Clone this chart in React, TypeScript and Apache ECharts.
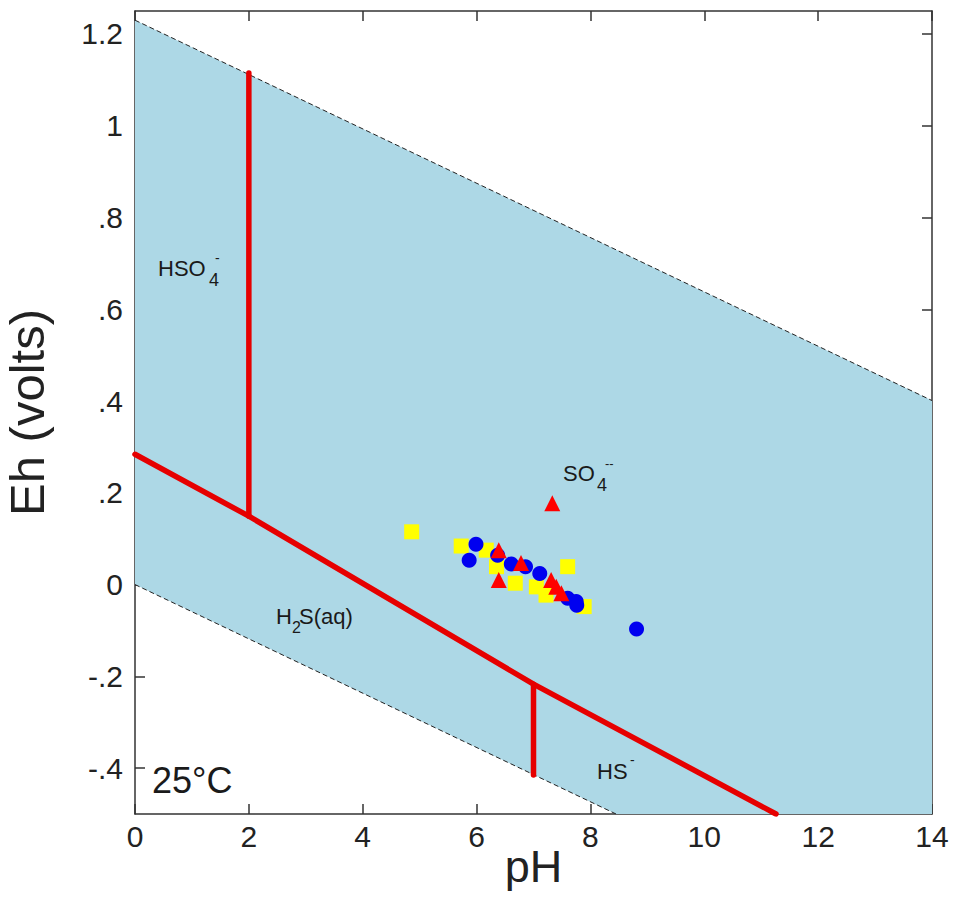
import React, { useEffect, useRef } from "react";
import * as echarts from "echarts";

// ---- data ----
const xTicks = [0, 2, 4, 6, 8, 10, 12, 14];
const yTickValues = [-0.4, -0.2, 0, 0.2, 0.4, 0.6, 0.8, 1.0, 1.2];

// water stability field (light blue region)
const waterField = [[0, 1.23], [14, 0.401], [14, -0.5], [8.45, -0.5], [0, 0]];
const waterUpper = [[0, 1.23], [14, 0.401]];
const waterLower = [[0, 0], [8.45, -0.5]];

// sulfur species boundaries (red)
const boundaryMain = [[0, 0.284], [2, 0.149], [7, -0.217], [11.26, -0.5]];
const boundaryHSO4 = [[2, 1.115], [2, 0.149]];
const boundaryHS = [[7, -0.217], [7, -0.415]];

// samples
const yellowSquares = [
  [4.86, 0.115], [5.73, 0.084], [6.17, 0.075], [6.35, 0.039], [6.68, 0.003],
  [7.05, -0.005], [7.22, -0.023], [7.6, 0.039], [7.89, -0.048],
];
const blueCircles = [
  [5.99, 0.088], [5.87, 0.053], [6.37, 0.064], [6.61, 0.045], [6.86, 0.039],
  [7.11, 0.024], [7.6, -0.03], [7.75, -0.037], [7.76, -0.045], [8.81, -0.097],
];
const redTriangles = [
  [7.33, 0.177], [6.39, 0.075], [6.78, 0.047], [6.39, 0.01],
  [7.31, 0.01], [7.4, -0.005], [7.49, -0.019],
];

const FONT = "'Liberation Sans', Arial, Helvetica, sans-serif";
const AXIS_COLOR = "#333";
const RED = "#e60000";

function fmtY(v: number): string {
  const r = Math.round(v * 10) / 10;
  if (r === 0) return "0";
  return String(r).replace(/^(-?)0\./, "$1.");
}

function txt(text: string, x: number, y: number, size: number, extra: any = {}) {
  return {
    type: "text",
    x,
    y,
    silent: true,
    z: 50,
    style: {
      text,
      fontSize: size,
      fontFamily: FONT,
      fill: "#1a1a1a",
      align: "left",
      verticalAlign: "middle",
      ...extra,
    },
  };
}

export default function App() {
  const ref = useRef<HTMLDivElement>(null);
  useEffect(() => {
    if (!ref.current) return;
    const chart = echarts.init(ref.current, null, { renderer: "svg" });
    const axisLine = { show: true, onZero: false, lineStyle: { color: AXIS_COLOR, width: 1.5 } };
    const tick = { inside: true, length: 10, lineStyle: { color: AXIS_COLOR, width: 1.5 } };
    const option: any = {
      animation: false,
      backgroundColor: "#ffffff",
      grid: {
        left: 135, right: 24, top: 11, bottom: 88,
        containLabel: false, outerBoundsMode: "none",
      },
      xAxis: [
        {
          type: "value", min: xTicks[0], max: xTicks[xTicks.length - 1], interval: 2,
          position: "bottom", axisLine, axisTick: tick, splitLine: { show: false },
          axisLabel: { fontSize: 30, color: "#222", margin: 7, fontFamily: FONT },
          name: "pH", nameLocation: "middle", nameGap: 27, nameMoveOverlap: false,
          nameTextStyle: { fontSize: 45, color: "#222", fontFamily: FONT, lineHeight: 50 },
        },
        {
          type: "value", min: xTicks[0], max: xTicks[xTicks.length - 1], interval: 2,
          position: "top", axisLine, axisTick: tick, splitLine: { show: false },
          axisLabel: { show: false },
        },
      ],
      yAxis: [
        {
          type: "value", min: -0.5, max: 1.25, position: "left", axisLine,
          axisTick: { ...tick, customValues: yTickValues }, splitLine: { show: false },
          axisLabel: {
            customValues: yTickValues, fontSize: 30, color: "#222", margin: 12,
            fontFamily: FONT, formatter: (v: number) => fmtY(v),
          },
          name: "Eh (volts)", nameLocation: "middle", nameRotate: 90, nameGap: 84,
          nameTextStyle: { fontSize: 49, color: "#222", fontFamily: FONT },
        },
        {
          type: "value", min: -0.5, max: 1.25, position: "right", axisLine,
          axisTick: { ...tick, customValues: yTickValues }, splitLine: { show: false },
          axisLabel: { show: false },
        },
      ],
      series: [
        {
          type: "custom", silent: true, z: 1, data: [[0, 0]], clip: true,
          renderItem: (_p: any, api: any) => ({
            type: "polygon",
            shape: { points: waterField.map((pt) => api.coord(pt)) },
            style: { fill: "#add8e6", stroke: "none" },
          }),
        },
        {
          type: "line", data: waterUpper, showSymbol: false, silent: true, z: 2,
          lineStyle: { color: "#222", width: 1, type: [5, 3] },
        },
        {
          type: "line", data: waterLower, showSymbol: false, silent: true, z: 2,
          lineStyle: { color: "#222", width: 1, type: [5, 3] },
        },
        ...[boundaryMain, boundaryHSO4, boundaryHS].map((d) => ({
          type: "line", data: d, showSymbol: false, silent: true, z: 3,
          lineStyle: { color: RED, width: 5.5, cap: "round" },
        })),
        {
          type: "scatter", data: yellowSquares, symbol: "rect", symbolSize: 15, z: 4,
          itemStyle: { color: "#ffff00", opacity: 1 },
        },
        {
          type: "scatter", data: blueCircles, symbol: "circle", symbolSize: 15, z: 5,
          itemStyle: { color: "#0000f0", opacity: 1 },
        },
        {
          type: "scatter", data: redTriangles, symbol: "triangle", symbolSize: 16, z: 6,
          itemStyle: { color: "#ff0000", opacity: 1 },
        },
      ],
      graphic: [
        txt("HSO", 158, 268, 22),
        txt("4", 209, 280, 18),
        txt("-", 215, 258, 14),
        txt("SO", 563, 473, 22),
        txt("4", 597, 485, 18),
        txt("--", 605, 463, 13),
        txt("H", 276, 616, 22),
        txt("2", 292, 627, 16),
        txt("S(aq)", 299, 616, 22),
        txt("HS", 597, 771, 22),
        txt("-", 630, 760, 14),
        txt("25°C", 152, 780, 36),
      ],
    };
    chart.setOption(option);
    return () => chart.dispose();
  }, []);
  return (
    <div
      ref={ref}
      style={{ position: "fixed", left: 0, top: 0, width: 956, height: 902, background: "#fff" }}
    />
  );
}
